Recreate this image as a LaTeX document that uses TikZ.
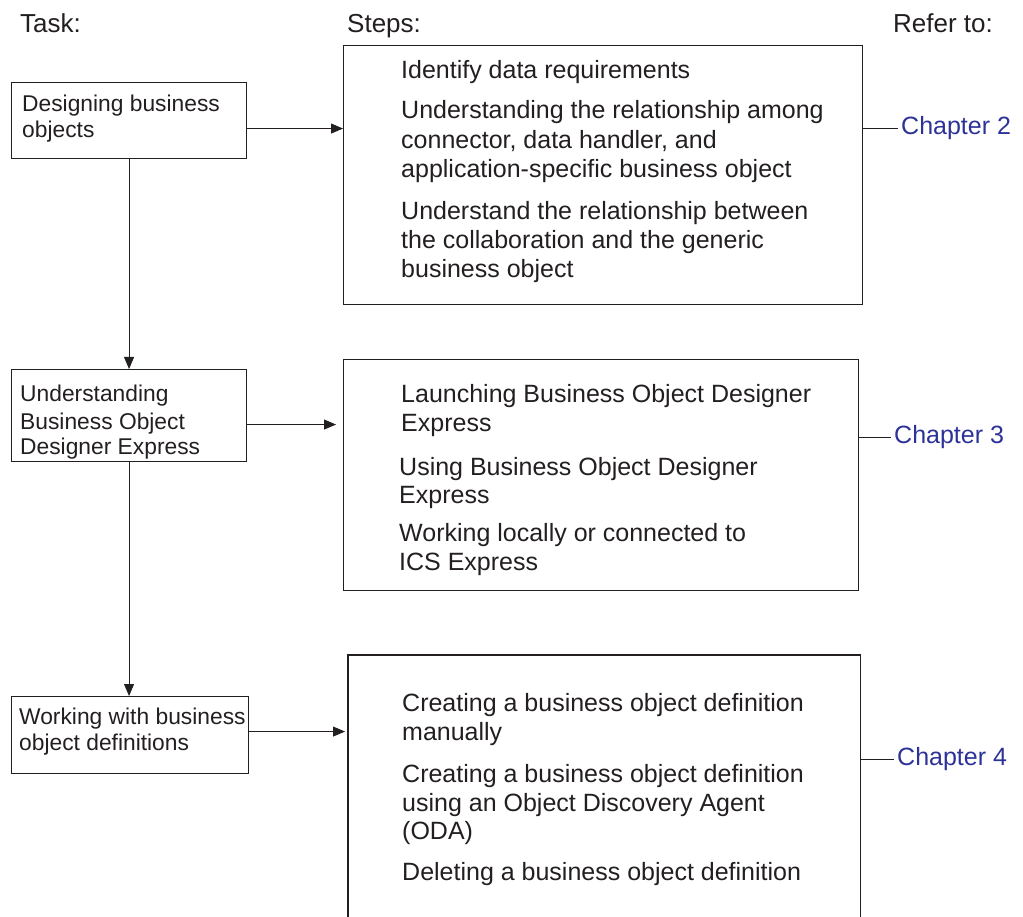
\documentclass[tikz,border=0pt]{standalone}
\usepackage{fontspec}
\setmainfont{Liberation Sans}
\usetikzlibrary{arrows.meta,calc}
\definecolor{ink}{RGB}{35,31,32}
\definecolor{linkblue}{RGB}{45,50,150}
\begin{document}
\begin{tikzpicture}[x=1pt,y=-1pt,
  box/.style={draw=ink,line width=1.1pt,inner sep=0pt,anchor=north west},
  tasktext/.style={inner sep=0pt,anchor=base west,text=ink,font=\fontsize{22.8}{26}\selectfont},
  steptext/.style={inner sep=0pt,anchor=base west,text=ink,font=\fontsize{25}{29}\selectfont},
  headtext/.style={inner sep=0pt,anchor=base west,text=ink,font=\fontsize{26}{30}\selectfont},
  chaptext/.style={inner sep=0pt,anchor=west,text=linkblue,font=\fontsize{25}{29}\selectfont},
  arr/.style={draw=ink,line width=0.9pt,-{Triangle[length=12pt,width=10pt]}},
  conn/.style={draw=ink,line width=0.9pt}]
\useasboundingbox (0,0) rectangle (1023,917);

% headers
\node[headtext] (hTask) at (20,33) {Task:};
\node[headtext] (hSteps) at (347,33) {Steps:};
\node[headtext] (hRefer) at (893,33) {Refer to:};

% task boxes
\node[box,minimum width=235pt,minimum height=76pt] (t1) at (11,82) {};
\node[box,minimum width=235pt,minimum height=92pt] (t2) at (11,369) {};
\node[box,minimum width=237pt,minimum height=77pt] (t3) at (11,696) {};

\node[tasktext] (t1a) at (22,112) {Designing business};
\node[tasktext] (t1b) at (22,138) {objects};
\node[tasktext] (t2a) at (20,401) {Understanding};
\node[tasktext] (t2b) at (20,429) {Business Object};
\node[tasktext] (t2c) at (20,454) {Designer Express};
\node[tasktext] (t3a) at (19,724) {Working with business};
\node[tasktext] (t3b) at (19,750) {object definitions};

% step boxes
\node[box,minimum width=519pt,minimum height=259pt] (b1) at (343,45) {};
\node[box,minimum width=515pt,minimum height=231pt] (b2) at (343,359) {};
\node[inner sep=0pt,anchor=north west,minimum width=512pt,minimum height=290pt] (b3) at (348,655) {};
\draw[box] (b3.south west) -- (b3.north west) -- (b3.north east) -- (b3.south east);

% step texts box 1
\node[steptext] (s1a) at (401,79) {Identify data requirements};
\node[steptext] (s1b) at (401,119) {Understanding the relationship among};
\node[steptext] (s1c) at (401,149) {connector, data handler, and};
\node[steptext] (s1d) at (401,178) {application-specific business object};
\node[steptext] (s1e) at (401,220) {Understand the relationship between};
\node[steptext] (s1f) at (401,249) {the collaboration and the generic};
\node[steptext] (s1g) at (401,278) {business object};

% step texts box 2
\node[steptext] (s2a) at (401,402) {Launching Business Object Designer};
\node[steptext] (s2b) at (401,431) {Express};
\node[steptext] (s2c) at (399,475) {Using Business Object Designer};
\node[steptext] (s2d) at (399,503) {Express};
\node[steptext] (s2e) at (399,541) {Working locally or connected to};
\node[steptext] (s2f) at (399,570) {ICS Express};

% step texts box 3
\node[steptext] (s3a) at (402,711) {Creating a business object definition};
\node[steptext] (s3b) at (402,740) {manually};
\node[steptext] (s3c) at (402,782) {Creating a business object definition};
\node[steptext] (s3d) at (402,811) {using an Object Discovery Agent};
\node[steptext] (s3e) at (402,839) {(ODA)};
\node[steptext] (s3f) at (402,880) {Deleting a business object definition};

% chapters
\node[chaptext] (c2) at (901,128) {Chapter 2};
\node[chaptext] (c3) at (894,437) {Chapter 3};
\node[chaptext] (c4) at (897,759) {Chapter 4};
\draw[conn] (c2.west -| b1.east) -- ([xshift=-3pt]c2.west);
\draw[conn] (c3.west -| b2.east) -- ([xshift=-3pt]c3.west);
\draw[conn] (c4.west -| b3.east) -- ([xshift=-3pt]c4.west);

% arrows
\draw[arr] ([yshift=-8pt]t1.east) -- ([yshift=-8pt]t1.east -| b1.west);
\draw[arr] ([yshift=-9pt]t2.east) -- ([yshift=-9pt,xshift=-7pt]t2.east -| b2.west);
\draw[arr] ([yshift=3.5pt]t3.east) -- ([yshift=3.5pt,xshift=-3pt]t3.east -| b3.west);
\draw[arr] (t1.south) -- (t2.north);
\draw[arr] (t2.south) -- (t2.south |- t3.north);
\end{tikzpicture}
\end{document}
